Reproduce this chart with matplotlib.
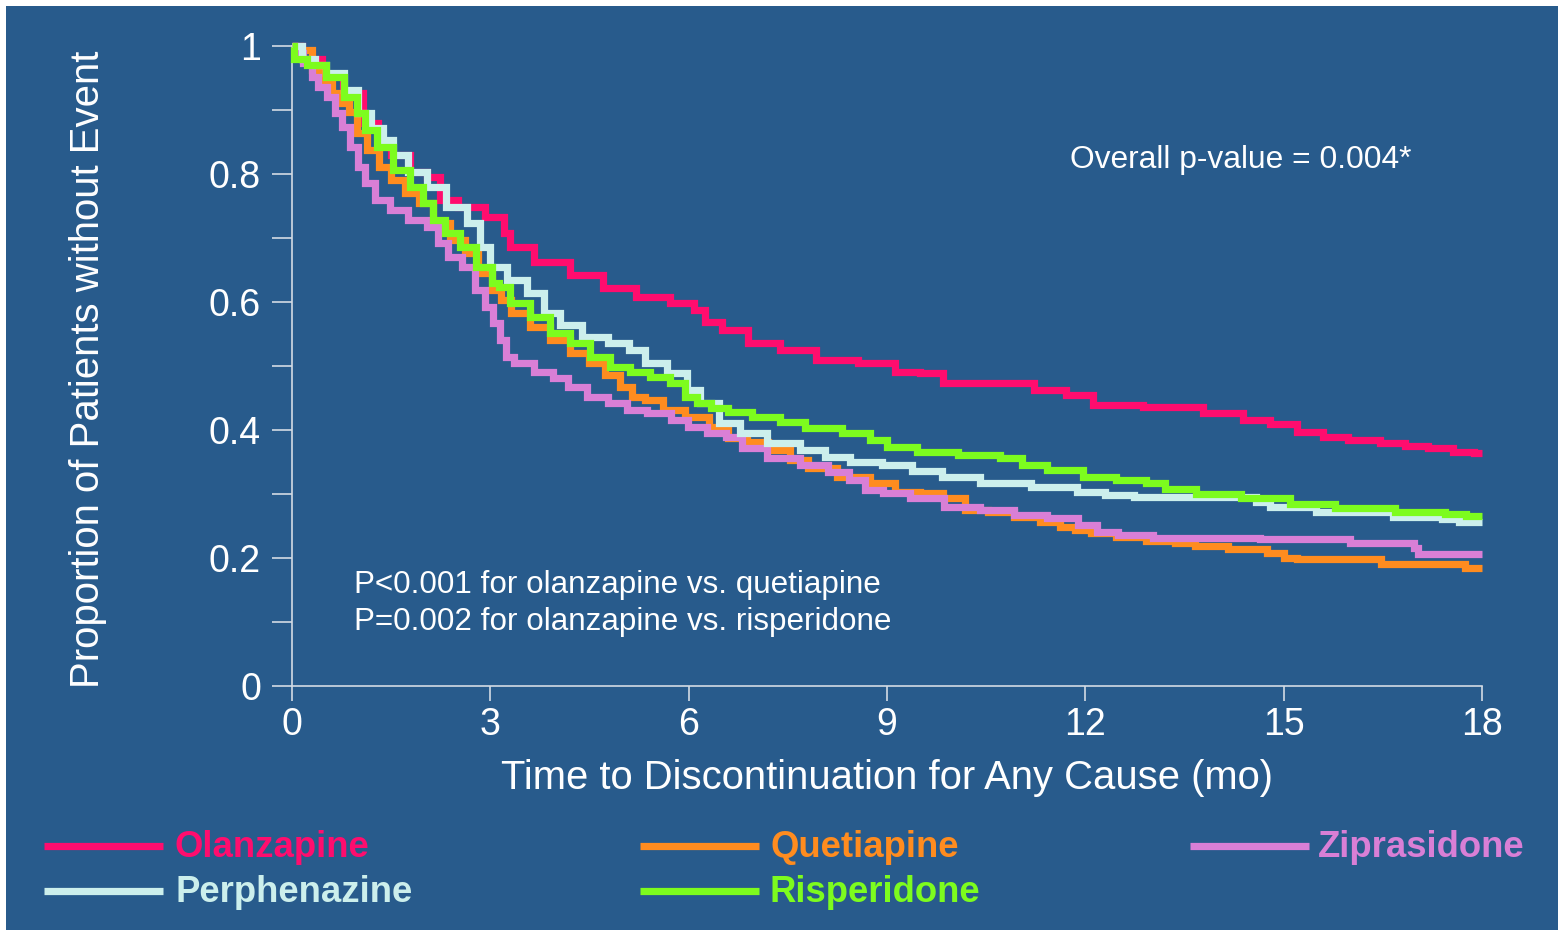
import matplotlib
matplotlib.use("Agg")
import matplotlib.pyplot as plt
from matplotlib.patches import Rectangle
from matplotlib.lines import Line2D
from matplotlib.ticker import MultipleLocator

plt.rcParams['font.family'] = ['Liberation Sans', 'DejaVu Sans']

# ---------------- data ----------------
olz_t = [0, 0.3, 0.6, 0.95, 1.2, 1.41, 1.6, 1.97, 2.12, 2.36, 2.66, 3.18, 3.22, 3.37, 3.95, 4.46, 4.96, 5.46,
         5.97, 6.2, 6.28, 6.73, 7.08, 7.68, 8.18, 8.94, 9.3, 9.7, 10.0, 10.97, 11.47, 11.96, 12.27, 13.48, 14.08,
         14.69, 14.9, 15.5, 15.7, 16.26, 16.65, 17.02, 17.36, 17.77, 18.0]
olz_s = [1.0, 0.98, 0.955, 0.927, 0.88, 0.842, 0.83, 0.803, 0.795, 0.759, 0.749, 0.733, 0.708, 0.686, 0.662,
         0.642, 0.622, 0.608, 0.598, 0.587, 0.569, 0.556, 0.536, 0.525, 0.509, 0.505, 0.491, 0.489, 0.473,
         0.473, 0.4625, 0.455, 0.439, 0.436, 0.4265, 0.4156, 0.409, 0.397, 0.389, 0.384, 0.380, 0.375, 0.372,
         0.366, 0.364]

que_t = [0, 0.24, 0.35, 0.50, 0.70, 0.80, 0.91, 1.06, 1.21, 1.41, 1.60, 1.82, 2.01, 2.27, 2.51, 2.72, 2.92,
         3.12, 3.19, 3.45, 3.75, 4.05, 4.36, 4.61, 4.86, 5.07, 5.22, 5.46, 5.76, 6.13, 6.47, 6.73, 7.03, 7.38,
         7.68, 7.94, 8.55, 8.94, 9.30, 9.70, 10.0, 10.36, 10.71, 11.12, 11.51, 11.72, 11.96, 12.22, 12.72,
         13.13, 13.58, 13.73, 14.60, 14.90, 15.10, 15.29, 16.45, 16.50, 17.72, 17.77, 18.0]
que_s = [1.0, 0.994, 0.9625, 0.942, 0.927, 0.911, 0.897, 0.864, 0.8375, 0.811, 0.791, 0.770, 0.755, 0.723,
         0.697, 0.677, 0.645, 0.619, 0.603, 0.583, 0.561, 0.541, 0.520, 0.505, 0.486, 0.467, 0.452, 0.447,
         0.431, 0.420, 0.405, 0.3875, 0.381, 0.369, 0.353, 0.341, 0.327, 0.317, 0.303, 0.3015, 0.294, 0.275,
         0.272, 0.264, 0.256, 0.248, 0.244, 0.239, 0.233, 0.227, 0.223, 0.219, 0.214, 0.208, 0.200, 0.198,
         0.198, 0.191, 0.191, 0.184, 0.184]

zip_t = [0, 0.09, 0.24, 0.35, 0.45, 0.61, 0.70, 0.80, 0.95, 1.06, 1.15, 1.36, 1.60, 1.91, 2.16, 2.27, 2.44,
         2.69, 2.84, 2.99, 3.10, 3.19, 3.27, 3.45, 3.86, 4.05, 4.31, 4.61, 4.96, 5.16, 5.57, 5.91, 6.07, 6.47,
         6.67, 6.93, 7.43, 7.94, 8.29, 8.55, 8.79, 9.09, 9.61, 10.10, 10.71, 11.12, 11.72, 12.07, 12.27, 12.72,
         13.33, 15.95, 16.05, 16.95, 17.0, 17.05, 18.0]
zip_s = [1.0, 0.989, 0.973, 0.951, 0.936, 0.92, 0.895, 0.873, 0.842, 0.811, 0.786, 0.759, 0.744, 0.728, 0.717,
         0.692, 0.670, 0.655, 0.619, 0.592, 0.567, 0.541, 0.514, 0.505, 0.491, 0.481, 0.467, 0.452, 0.442,
         0.431, 0.427, 0.416, 0.405, 0.395, 0.389, 0.372, 0.356, 0.345, 0.334, 0.322, 0.306, 0.3015, 0.294,
         0.280, 0.275, 0.267, 0.2625, 0.252, 0.241, 0.236, 0.231, 0.230, 0.223, 0.223, 0.216, 0.206, 0.206]

per_t = [0, 0.3, 0.39, 0.65, 0.91, 1.10, 1.30, 1.45, 1.60, 1.91, 2.16, 2.51, 2.77, 2.92, 3.07, 3.42, 3.68,
         3.95, 4.16, 4.61, 4.96, 5.22, 5.46, 5.87, 6.07, 6.28, 6.63, 6.93, 7.43, 7.94, 8.18, 8.70, 9.15, 9.61,
         10.06, 10.75, 11.62, 12.12, 12.48, 12.98, 14.55, 14.60, 14.99, 16.0, 17.32, 17.47, 17.82, 18.0]
per_s = [1.0, 0.98, 0.97, 0.958, 0.931, 0.895, 0.872, 0.853, 0.83, 0.803, 0.78, 0.749, 0.723, 0.686, 0.655,
         0.634, 0.614, 0.583, 0.564, 0.545, 0.536, 0.525, 0.505, 0.489, 0.4625, 0.442, 0.411, 0.395, 0.380,
         0.369, 0.358, 0.350, 0.345, 0.336, 0.327, 0.317, 0.311, 0.303, 0.298, 0.295, 0.295, 0.2875, 0.280,
         0.272, 0.264, 0.261, 0.256, 0.256]

ris_t = [0, 0.05, 0.39, 0.65, 0.91, 1.06, 1.15, 1.41, 1.66, 1.91, 2.06, 2.21, 2.42, 2.66, 2.92, 3.12, 3.15,
         3.45, 3.75, 4.05, 4.36, 4.66, 4.96, 5.26, 5.57, 5.87, 6.02, 6.22, 6.47, 6.73, 7.18, 7.58, 7.94, 8.70,
         8.79, 9.2, 9.7, 10.45, 10.97, 11.12, 11.72, 12.22, 12.72, 13.13, 13.28, 14.08, 14.64, 15.55, 16.0,
         17.36, 17.51, 18.0]
ris_s = [1.0, 0.98, 0.97, 0.951, 0.92, 0.895, 0.869, 0.842, 0.806, 0.78, 0.755, 0.728, 0.708, 0.686, 0.655,
         0.63, 0.623, 0.598, 0.577, 0.552, 0.536, 0.514, 0.498, 0.491, 0.483, 0.473, 0.452, 0.442, 0.434,
         0.428, 0.420, 0.4125, 0.403, 0.395, 0.384, 0.373, 0.366, 0.361, 0.356, 0.345, 0.3375, 0.327, 0.322,
         0.317, 0.308, 0.300, 0.294, 0.284, 0.278, 0.272, 0.269, 0.266]

x_ticks = [0, 3, 6, 9, 12, 15, 18]
y_ticks = [0, 0.2, 0.4, 0.6, 0.8, 1]
y_ticklabels = ["0", "0.2", "0.4", "0.6", "0.8", "1"]

# ---------------- styling ----------------
BG = '#285b8c'
SPINE = '#d3dbe4'
colors = {
    'Olanzapine': '#ff0d6e',
    'Quetiapine': '#ff8c1f',
    'Ziprasidone': '#d97fd6',
    'Perphenazine': '#ccefec',
    'Risperidone': '#7dfc1e',
}

W, H = 1564, 936
fig = plt.figure(figsize=(W / 100, H / 100), dpi=100)
fig.patch.set_facecolor('white')


def fx(px):
    return px / W


def fy(py):
    return 1 - py / H


fig.patches.append(Rectangle((fx(6), fy(930)), fx(1558) - fx(6), fy(6) - fy(930),
                             transform=fig.transFigure, facecolor=BG, edgecolor='none', zorder=-10))

ax = fig.add_axes([fx(292), fy(686), fx(1482) - fx(292), fy(46) - fy(686)])
ax.set_zorder(5)
ax.set_facecolor('none')
ax.set_xlim(0, 18)
ax.set_ylim(0, 1)

series = [
    ('Olanzapine', olz_t, olz_s),
    ('Quetiapine', que_t, que_s),
    ('Ziprasidone', zip_t, zip_s),
    ('Perphenazine', per_t, per_s),
    ('Risperidone', ris_t, ris_s),
]
for i, (name, t, s) in enumerate(series):
    ax.plot(t, s, drawstyle='steps-mid', color=colors[name], lw=5.2,
            solid_joinstyle='miter', solid_capstyle='butt', clip_on=False, zorder=3 + i)

for side in ['top', 'right']:
    ax.spines[side].set_visible(False)
for side in ['left', 'bottom']:
    ax.spines[side].set_color(SPINE)
    ax.spines[side].set_linewidth(1.2)

ax.set_xticks(x_ticks)
ax.set_xticklabels([str(v) for v in x_ticks])
ax.set_yticks(y_ticks)
ax.set_yticklabels(y_ticklabels)
ax.yaxis.set_minor_locator(MultipleLocator(0.1))
ax.tick_params(axis='y', which='both', direction='out', length=14.4, width=1.2,
               color=SPINE, labelcolor='white', labelsize=27, pad=8)
ax.tick_params(axis='x', which='major', direction='out', length=11, width=1.2,
               color=SPINE, labelcolor='white', labelsize=27, pad=4)

ax.set_xlabel('Time to Discontinuation for Any Cause (mo)', color='white', fontsize=28.8, va='center')
ax.xaxis.set_label_coords(0.5, (686 - 778) / 640)
ax.set_ylabel('Proportion of Patients without Event', color='white', fontsize=28.9, va='center')
ax.yaxis.set_label_coords((88 - 292) / 1190, (686 - 369) / 640)

fig.text(fx(1070), fy(160), 'Overall p-value = 0.004*', color='white', fontsize=22.9,
         ha='left', va='center')
fig.text(fx(354), fy(585), 'P<0.001 for olanzapine vs. quetiapine', color='white', fontsize=22.6,
         ha='left', va='center')
fig.text(fx(354), fy(622), 'P=0.002 for olanzapine vs. risperidone', color='white', fontsize=22.6,
         ha='left', va='center')

# custom legend
legend_items = [
    ('Olanzapine', 44, 846, 175),
    ('Quetiapine', 640, 846, 770),
    ('Ziprasidone', 1190, 846, 1318),
    ('Perphenazine', 44, 891, 175),
    ('Risperidone', 640, 891, 770),
]
for name, lx, ly, tx in legend_items:
    fig.add_artist(Line2D([fx(lx), fx(lx + 119)], [fy(ly), fy(ly)], transform=fig.transFigure,
                          color=colors[name], lw=5.2, solid_capstyle='butt'))
    fig.text(fx(tx), fy(ly + 11), name, color=colors[name], fontsize=26.3, fontweight='bold',
             ha='left', va='baseline')

fig.savefig('out.png', dpi=100, facecolor=fig.get_facecolor())
